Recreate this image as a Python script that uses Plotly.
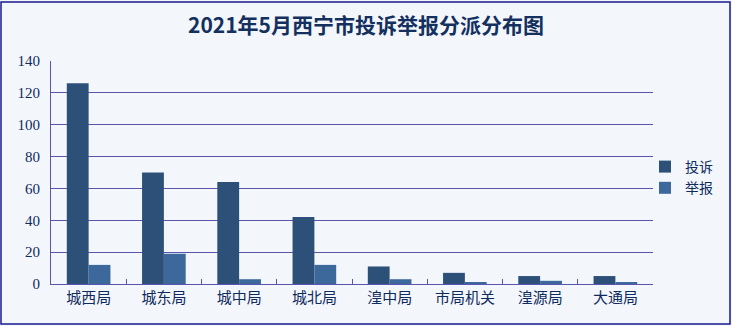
import plotly.graph_objects as go

categories = ["城西局", "城东局", "城中局", "城北局", "湟中局", "市局机关", "湟源局", "大通局"]
complaints = [126, 70, 64, 42, 11, 7, 5, 5]
reports = [12, 19, 3, 12, 3, 1, 2, 1]
series_names = ["投诉", "举报"]
title_text = "2021年5月西宁市投诉举报分派分布图"
y_ticks = [0, 20, 40, 60, 80, 100, 120, 140]

W, H = 732, 326
L, R, T, B = 51, 79, 61, 42
pw, ph = W - L - R, H - T - B

text_color = "#0F2A5C"
grid_color = "#5A56B0"

fig = go.Figure()
fig.add_trace(go.Bar(x=categories, y=complaints, name=series_names[0],
                     marker=dict(color="#2D5079", line=dict(width=0))))
fig.add_trace(go.Bar(x=categories, y=reports, name=series_names[1],
                     marker=dict(color="#3D689C", line=dict(width=0))))

fig.update_layout(
    width=W, height=H,
    margin=dict(l=L, r=R, t=T, b=B, autoexpand=False),
    paper_bgcolor="#F3F7FC",
    plot_bgcolor="#F3F7FC",
    barmode="group",
    bargap=0.42,
    bargroupgap=0,
    title=dict(text="<b>" + title_text + "</b>", x=0.5, xanchor="center",
               y=1 - 26 / H, yanchor="middle",
               font=dict(family="Noto Sans CJK SC", size=21, color="#14305F")),
    font=dict(family="Noto Sans CJK SC", color=text_color),
    legend=dict(x=(645 - L) / pw, y=(284 - 151) / ph, xanchor="left", yanchor="top",
                bgcolor="rgba(0,0,0,0)", font=dict(size=14, color=text_color),
                itemwidth=30, tracegroupgap=0, traceorder="normal"),
    showlegend=True,
)
fig.update_xaxes(
    type="category", showline=True, linecolor=grid_color, linewidth=1,
    ticks="inside", tickson="boundaries", ticklen=5, tickcolor=grid_color,
    tickfont=dict(size=15, color=text_color, family="Noto Sans CJK SC"),
    showgrid=False, fixedrange=True,
)
fig.update_yaxes(
    range=[0, 140], tickvals=y_ticks, showline=True, linecolor=grid_color, linewidth=1,
    showgrid=True, gridcolor=grid_color, gridwidth=1, zeroline=False,
    ticks="", tickfont=dict(size=15, color=text_color, family="Liberation Serif"),
    ticklabelstandoff=7,
)

fig.add_shape(type="rect", xref="paper", yref="paper",
              x0=(1 - L) / pw, x1=(730 - L) / pw,
              y0=(284 - 324) / ph, y1=(284 - 2) / ph,
              line=dict(color="#1A1A8C", width=1.5), fillcolor="rgba(0,0,0,0)", layer="above")

fig.write_html("out.html")
